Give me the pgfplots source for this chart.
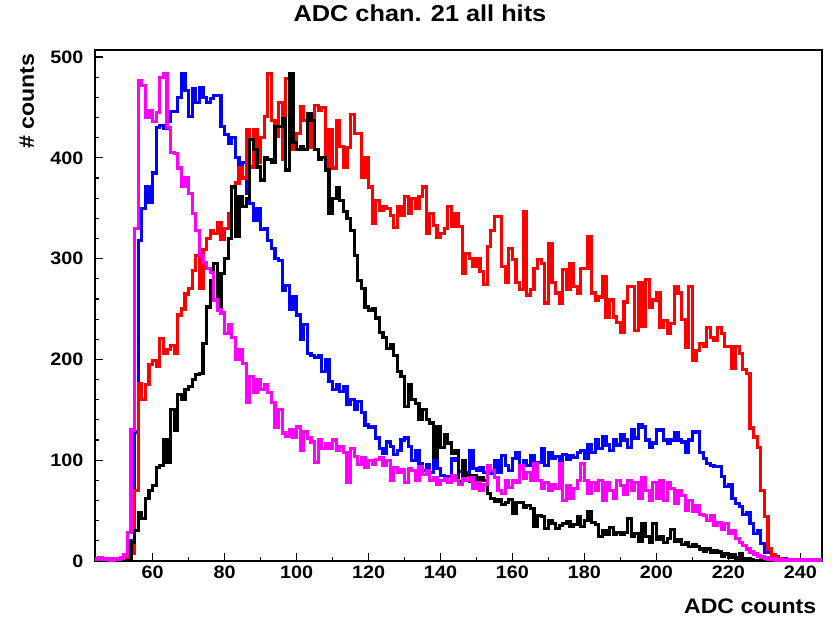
\documentclass[border=0pt]{standalone}
\usepackage{fontspec}
\setmainfont{Liberation Sans}[FakeStretch=1.1]
\usepackage{pgfplots}
\pgfplotsset{compat=1.18}
\usepackage{pgfplotstable}

\pgfplotstableread{
x m b k r
44 2 1 0 0
45 3 0 0 0
46 2 1 0 1
47 2 0 0 0
48 1 0 0 0
49 2 1 0 0
50 2 0 0 1
51 3 1 0 0
52 6 2 0 1
53 28 2 0 2
54 130 20 18 8
55 330 128 30 70
56 477 318 48 176
57 472 350 42 160
58 440 371 62 175
59 447 356 70 195
60 436 385 75 199
61 445 430 93 193
62 480 432 95 221
63 484 429 120 206
64 430 436 98 210
65 405 446 150 214
66 404 446 130 206
67 390 460 165 244
68 372 484 160 250
69 380 467 170 265
70 365 441 173 270
71 345 469 180 288
72 328 455 185 303
73 303 470 186 270
74 296 460 216 309
75 290 455 252 320
76 286 459 278 328
77 259 462 295 325
78 249 462 249 336
79 246 431 285 319
80 226 423 300 330
81 235 414 320 345
82 222 420 371 371
83 200 400 322 375
84 210 381 362 390
85 196 395 352 380
86 157 365 360 428
87 183 355 418 391
88 167 338 408 428
89 180 350 391 395
90 170 329 378 420
91 175 330 400 441
92 167 318 398 484
93 157 310 395 437
94 133 300 431 421
95 150 298 431 455
96 127 268 439 398
97 124 273 388 479
98 130 250 484 451
99 123 262 415 408
100 133 244 408 424
101 110 220 411 451
102 128 235 408 437
103 122 206 444 410
104 118 204 437 440
105 98 202 408 452
106 120 204 398 447
107 112 188 400 450
108 116 200 388 388
109 112 178 345 428
110 120 170 360 390
111 110 175 370 437
112 114 168 358 411
113 108 173 347 391
114 78 155 340 410
115 112 160 328 443
116 104 150 303 424
117 96 158 278 424
118 103 147 270 381
119 93 135 252 400
120 100 133 249 371
121 96 133 250 335
122 101 122 241 358
123 103 112 227 348
124 95 107 222 352
125 100 118 211 350
126 80 114 215 343
127 93 106 204 331
128 88 110 188 352
129 91 120 183 343
130 78 122 153 362
131 92 114 175 345
132 90 100 160 360
133 80 110 156 350
134 94 97 140 362
135 86 90 150 371
136 90 96 140 325
137 80 88 137 345
138 83 110 103 333
139 76 92 133 321
140 80 85 113 325
141 82 84 125 330
142 78 84 117 352
143 85 102 107 332
144 80 100 110 345
145 76 89 79 332
146 82 90 100 285
147 80 88 85 305
148 83 110 79 300
149 72 92 85 292
150 78 90 80 300
151 70 93 83 287
152 76 88 80 274
153 95 92 67 312
154 90 87 62 328
155 83 100 59 342
156 70 88 61 342
157 67 105 56 292
158 80 95 58 276
159 73 90 61 310
160 80 102 47 299
161 78 108 58 276
162 95 92 58 269
163 82 100 53 347
164 88 95 55 264
165 80 105 52 269
166 97 90 34 290
167 80 98 45 299
168 72 112 44 295
169 78 95 32 256
170 70 108 40 315
171 76 102 37 276
172 72 104 32 266
173 97 99 35 256
174 60 106 37 289
175 75 101 39 269
176 62 105 34 295
177 72 103 36 272
178 80 108 44 266
179 97 110 34 290
180 80 102 40 290
181 67 115 49 322
182 78 108 38 266
183 70 120 36 259
184 80 112 24 262
185 60 123 30 282
186 78 115 26 242
187 70 110 33 259
188 62 120 26 242
189 80 115 28 237
190 75 125 26 227
191 66 120 28 257
192 80 113 42 272
193 70 130 24 272
194 78 122 27 229
195 62 135 19 276
196 83 133 37 233
197 70 120 24 279
198 60 113 18 252
199 78 117 37 259
200 62 130 21 266
201 80 130 24 232
202 60 120 18 239
203 78 117 22 226
204 72 120 31 236
205 57 127 19 272
206 70 120 21 266
207 65 118 16 240
208 50 108 18 212
209 60 120 14 272
210 49 128 16 199
211 55 128 14 209
212 46 108 12 216
213 45 102 10 213
214 40 97 12 232
215 45 95 9 222
216 35 94 10 219
217 38 94 9 232
218 31 84 5 226
219 37 74 7 213
220 27 76 4 213
221 30 62 6 191
222 22 57 3 213
223 18 54 7 206
224 15 46 2 190
225 12 48 2 186
226 9 37 1 132
227 7 27 0 123
228 5 30 0 113
229 4 17 0 70
230 3 9 0 44
231 2 12 0 12
232 2 4 0 6
233 1 4 0 3
234 1 2 0 2
235 1 2 0 1
236 1 1 0 1
237 1 1 0 1
238 1 1 0 1
239 1 1 0 1
240 1 1 0 1
241 1 1 0 1
242 1 1 0 1
243 1 1 0 1
244 1 1 0 1
245 1 1 0 1
246 1 1 0 1
}\hist

\begin{document}
\begin{tikzpicture}
\begin{axis}[
  scale only axis,
  width=727pt, height=511pt,
  xmin=44, xmax=246, ymin=0, ymax=507,
  xtick={60,80,...,240},
  ytick={0,100,...,500},
  minor x tick num=1,
  minor y tick num=4,
  tick align=inside,
  tick pos=left,
  major tick length=8pt,
  minor tick length=4pt,
  every tick/.style={black, line width=1.2pt},
  axis line style={line width=1.8pt},
  /pgf/number format/assume math mode=true,
  ticklabel style={font=\bfseries\fontsize{18}{18}\selectfont},
  yticklabel style={xshift=-8pt},
  xticklabel style={yshift=-1pt},
  title={ADC chan. 21 all hits},
  title style={at={(axis description cs:0.447,1.045)}, anchor=base, font=\bfseries\fontsize{23}{23}\selectfont},
  xlabel={ADC counts},
  xlabel style={at={(axis description cs:0.997,-0.102)}, anchor=base east, font=\bfseries\fontsize{21}{21}\selectfont},
  ylabel={\# counts},
  ylabel style={at={(axis description cs:-0.084,1.0)}, anchor=base east, font=\bfseries\fontsize{21}{21}\selectfont},
  every axis plot/.append style={const plot, line width=3.2pt, line join=miter},
]
\addplot[color={rgb,255:red,0;green,0;blue,255}] table[x=x, y=b]{\hist};
\addplot[color={rgb,255:red,255;green,0;blue,0}] table[x=x, y=r]{\hist};
\addplot[color=black] table[x=x, y=k]{\hist};
\addplot[color={rgb,255:red,255;green,0;blue,255}] table[x=x, y=m]{\hist};
\end{axis}
\pgfresetboundingbox
\path[use as bounding box] ([xshift=-95pt,yshift=-55pt]current axis.south west) rectangle ([xshift=10pt,yshift=50pt]current axis.north east);
\end{tikzpicture}
\end{document}
